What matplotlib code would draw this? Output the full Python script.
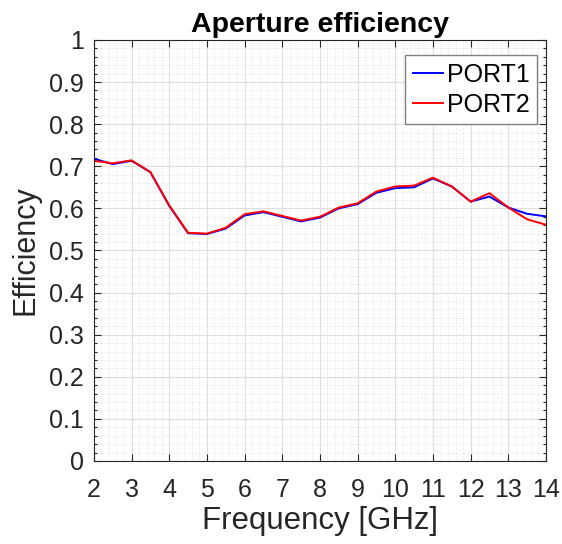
import numpy as np
import matplotlib
matplotlib.use('Agg')
import matplotlib.pyplot as plt
from matplotlib.ticker import MultipleLocator

# ---------------------------
# DATA
# ---------------------------
freq = [2, 2.5, 3, 3.5, 4, 4.5, 5, 5.5, 6, 6.5, 7, 7.5, 8, 8.5, 9, 9.5,
        10, 10.5, 11, 11.5, 12, 12.5, 13, 13.5, 14]
port1 = [0.718, 0.705, 0.713, 0.686, 0.606, 0.541, 0.539, 0.552, 0.583, 0.591,
         0.580, 0.569, 0.578, 0.600, 0.610, 0.637, 0.648, 0.650, 0.671, 0.652,
         0.616, 0.628, 0.602, 0.587, 0.581]
port2 = [0.713, 0.707, 0.714, 0.686, 0.607, 0.542, 0.540, 0.554, 0.586, 0.593,
         0.582, 0.571, 0.580, 0.602, 0.612, 0.640, 0.652, 0.654, 0.673, 0.652,
         0.616, 0.636, 0.602, 0.574, 0.561]
xticks = list(range(2, 15))
yticks = [0, 0.1, 0.2, 0.3, 0.4, 0.5, 0.6, 0.7, 0.8, 0.9, 1]
ytick_labels = ['0', '0.1', '0.2', '0.3', '0.4', '0.5', '0.6', '0.7', '0.8', '0.9', '1']

# ---------------------------
# STYLE
# ---------------------------
plt.rcParams['font.family'] = ['Liberation Sans', 'DejaVu Sans']
dark = (0.15, 0.15, 0.15)

fig = plt.figure(figsize=(5.62, 5.44), dpi=100)
ax = fig.add_axes([0.167, 0.1526, 0.8045, 0.774])

ax.plot(freq, port1, color=(0, 0, 1), lw=1.4, label='PORT1')
ax.plot(freq, port2, color=(1, 0, 0), lw=1.4, label='PORT2')

ax.set_xlim(2, 14)
ax.set_ylim(0, 1)
ax.set_xticks(xticks)
ax.set_yticks(yticks)
ax.set_yticklabels(ytick_labels)
ax.xaxis.set_minor_locator(MultipleLocator(0.2))
ax.yaxis.set_minor_locator(MultipleLocator(0.02))

# grid like MATLAB: light major, dotted minor
ax.grid(True, which='major', color=(0.87, 0.87, 0.87), lw=0.8)
ax.grid(True, which='minor', color=(0.85, 0.85, 0.85), lw=0.6, ls=(0, (1, 2)))
ax.set_axisbelow(True)

ax.tick_params(which='both', direction='in', top=True, right=True,
               colors=dark, labelcolor=dark, labelsize=18, width=0.8)
ax.tick_params(which='major', length=5)
ax.tick_params(axis='x', which='major', pad=12)
ax.tick_params(axis='y', which='major', pad=7)
ax.tick_params(axis='x', which='minor', length=0)
ax.tick_params(axis='y', which='minor', length=2.5)
for s in ax.spines.values():
    s.set_color(dark)
    s.set_linewidth(0.8)

ax.set_xlabel('Frequency [GHz]', fontsize=22.5, color=dark, labelpad=3)
ax.set_ylabel('Efficiency', fontsize=22, color=dark, labelpad=6)
ax.set_title('Aperture efficiency', fontsize=20.5, fontweight='bold', pad=6)

leg = ax.legend(loc='upper right', bbox_to_anchor=(0.980, 0.964), fontsize=18,
                frameon=True, fancybox=False, handlelength=1.2,
                handletextpad=0.15, borderpad=0.3, labelspacing=0.25,
                borderaxespad=0)
leg.get_frame().set_edgecolor((0.5, 0.5, 0.5))
leg.get_frame().set_linewidth(1.0)
leg.get_frame().set_alpha(1)

fig.savefig('out.png', dpi=100)
